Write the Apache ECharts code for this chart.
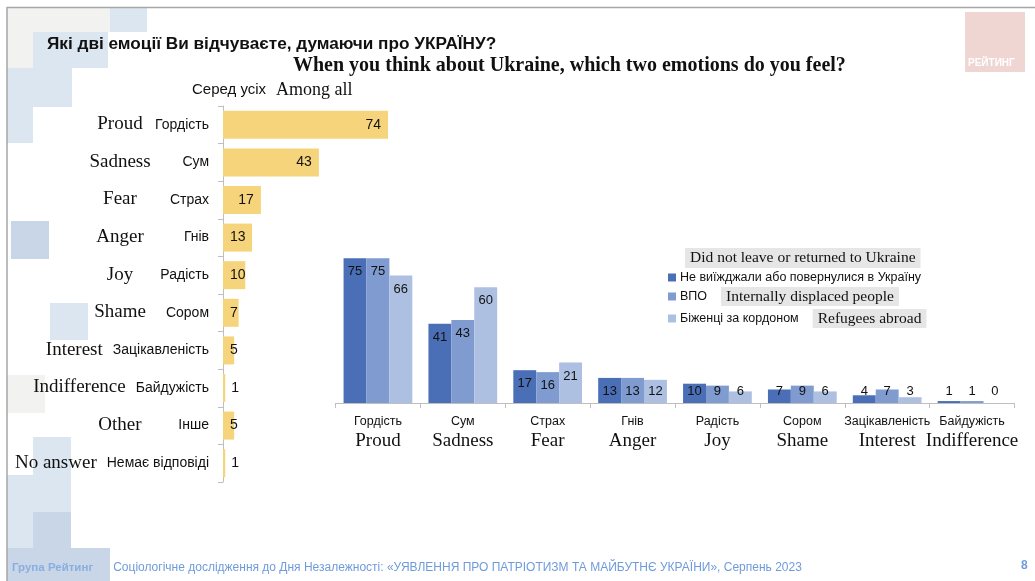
<!DOCTYPE html>
<html>
<head>
<meta charset="utf-8">
<script src="https://cdn.jsdelivr.net/npm/echarts@6/dist/echarts.min.js"></script>
<style>
html,body{margin:0;padding:0;background:#fff;}
#c{width:1035px;height:581px;}
</style>
</head>
<body>
<div id="c"></div>
<script>
// ---------- data ----------
var leftCatsEn = ['Proud','Sadness','Fear','Anger','Joy','Shame','Interest','Indifference','Other','No answer'];
var leftCatsUa = ['Гордість','Сум','Страх','Гнів','Радість','Сором','Зацікавленість','Байдужість','Інше','Немає відповіді'];
var leftValues = [74,43,17,13,10,7,5,1,5,1];

var rightCatsUa = ['Гордість','Сум','Страх','Гнів','Радість','Сором','Зацікавленість','Байдужість'];
var rightCatsEn = ['Proud','Sadness','Fear','Anger','Joy','Shame','Interest','Indifference'];
var seriesNamesUa = ['Не виїжджали або повернулися в Україну','ВПО','Біженці за кордоном'];
var seriesNamesEn = ['Did not leave or returned to Ukraine','Internally displaced people','Refugees abroad'];
var stayedValues = [75,41,17,13,10,7,4,1];
var idpValues = [75,43,16,13,9,9,7,1];
var refugeeValues = [66,60,21,12,6,6,3,0];

// ---------- styles ----------
var SANS = "'Liberation Sans', Arial, sans-serif";
var SERIF = "'Liberation Serif', 'DejaVu Serif', serif";
var barColors = ['#4A6FB7','#7F9BD0','#ADC0E2'];

// measure text for positioning of English labels
var mctx = document.createElement('canvas').getContext('2d');
function tw(text, font){ mctx.font = font; return mctx.measureText(text).width; }
var uaFont = '14px ' + SANS;
var enFont = '19px ' + SERIF;
var labelRight = 208, enCenter = 119;
var leftRich = {
  ua: {fontFamily: SANS, fontSize: 14, color: '#111'}
};
leftCatsEn.forEach(function(en, i){
  var uaW = tw(leftCatsUa[i], uaFont);
  var enW = tw(en, enFont);
  var gap = Math.max(10, (labelRight - uaW) - (enCenter + enW / 2));
  leftRich['e' + i] = {fontFamily: SERIF, fontSize: 19, color: '#111', padding: [0, gap, 1, 0]};
});

var chart = echarts.init(document.getElementById('c'));

function rightData(vals){
  return vals.map(function(v){
    return {value: v, label: {position: v >= 13 ? 'insideTop' : 'insideBottom', distance: v >= 13 ? 7 : 5}};
  });
}
function leftData(vals){
  return vals.map(function(v){
    var pos = v > 13 ? 'insideRight' : (v >= 3 ? 'insideLeft' : 'right');
    var dist = v > 13 ? 7 : (v >= 3 ? 7 : 6);
    return {value: v, label: {position: pos, distance: dist}};
  });
}
function rightSeries(i, vals){
  return {
    name: seriesNamesUa[i], type: 'bar', xAxisIndex: 1, yAxisIndex: 1,
    data: rightData(vals), barGap: '0%', barCategoryGap: '19%',
    itemStyle: {color: barColors[i]},
    label: {show: true, color: '#111', fontFamily: SANS, fontSize: 13},
    silent: true
  };
}

var deco = [
  ['#F2F2F0', 7, 8, 103, 24], ['#DCE6F0', 110, 8, 37, 24],
  ['#F2F2F0', 7, 32, 26, 36], ['#DCE6F0', 33, 32, 75, 36],
  ['#DCE6F0', 7, 68, 65, 39], ['#DCE6F0', 7, 107, 26, 36],
  ['#C8D6E8', 11, 221, 38, 38],
  ['#DCE6F0', 50, 303, 38, 37],
  ['#F2F2F0', 7, 375, 38, 38],
  ['#DCE6F0', 33, 437, 38, 38], ['#DCE6F0', 7, 475, 64, 37],
  ['#DCE6F0', 7, 512, 26, 36], ['#C8D6E8', 33, 512, 38, 36],
  ['#C8D6E8', 7, 548, 103, 33]
].map(function(d){
  return {type: 'rect', z: -10, shape: {x: d[1], y: d[2], width: d[3], height: d[4]}, style: {fill: d[0]}, silent: true};
});

var graphics = deco.concat([
  {type: 'line', z: -5, shape: {x1: 7, y1: 7.5, x2: 1035, y2: 7.5}, style: {stroke: '#A6A6A6', lineWidth: 1.5}},
  {type: 'line', z: -5, shape: {x1: 7, y1: 7, x2: 7, y2: 581}, style: {stroke: '#A6A6A6', lineWidth: 1.5}},
  {type: 'rect', z: -5, shape: {x: 965, y: 12, width: 60, height: 60}, style: {fill: '#EFD6D2'}},
  {type: 'text', z: -4, left: 968, top: 58, style: {text: 'РЕЙТИНГ', fill: '#fff', font: 'bold 10px ' + SANS}}
]);

var option = {
  animation: false,
  backgroundColor: '#fff',
  graphic: graphics,
  title: [
    {text: 'Які дві емоції Ви відчуваєте, думаючи про УКРАЇНУ?', left: 47, top: 36, padding: 0,
     textStyle: {fontFamily: SANS, fontSize: 17.2, fontWeight: 'bold', color: '#111'}},
    {text: 'When you think about Ukraine, which two emotions do you feel?', left: 293, top: 56, padding: 0,
     textStyle: {fontFamily: SERIF, fontSize: 20, fontWeight: 'bold', color: '#111'}},
    {text: '{a|Серед усіх}  {b|Among all}', left: 192, top: 81, padding: 0,
     textStyle: {fontWeight: 'normal', rich: {a: {fontFamily: SANS, fontSize: 15, fontWeight: 'normal', color: '#111'},
                                             b: {fontFamily: SERIF, fontSize: 18, fontWeight: 'normal', color: '#111'}}}},
    {text: seriesNamesEn[0], left: 685, top: 248, backgroundColor: '#E6E6E6', padding: [2, 5, 2, 5],
     textStyle: {fontFamily: SERIF, fontSize: 15.5, fontWeight: 'normal', color: '#111'}},
    {text: '{b|Група Рейтинг}{sp|}{n|Соціологічне дослідження до Дня Незалежності: «УЯВЛЕННЯ ПРО ПАТРІОТИЗМ ТА МАЙБУТНЄ УКРАЇНИ», Серпень 2023}',
     left: 12, top: 559, padding: 0,
     textStyle: {fontWeight: 'normal', rich: {b: {fontFamily: SANS, fontSize: 11.5, fontWeight: 'bold', color: '#8AAEE0'},
                        sp: {width: 20},
                        n: {fontFamily: SANS, fontSize: 12, fontWeight: 'normal', color: '#6F9BDB'}}}},
    {text: '8', left: 1021, top: 560, padding: 0, textStyle: {fontFamily: SANS, fontSize: 12, fontWeight: 'bold', color: '#6F9BDB'}}
  ],
  legend: {
    data: seriesNamesUa, orient: 'vertical', left: 668, top: 271, padding: 0,
    itemWidth: 8, itemHeight: 8, itemGap: 3, icon: 'rect', selectedMode: false,
    formatter: function(name){
      var i = seriesNamesUa.indexOf(name);
      return '{ua|' + name + '}' + (i > 0 ? '{sp|}{en|' + seriesNamesEn[i] + '}' : '');
    },
    textStyle: {
      padding: [0, 0, 0, -1],
      rich: {
        ua: {fontFamily: SANS, fontSize: 12.5, color: '#111', lineHeight: 18},
        sp: {width: 14},
        en: {fontFamily: SERIF, fontSize: 15.5, color: '#111', backgroundColor: '#E6E6E6', padding: [2, 5, 1, 5], lineHeight: 18}
      }
    }
  },
  grid: [
    {left: 223, top: 106, width: 223, height: 376},
    {left: 335.5, top: 210, width: 679, height: 193}
  ],
  xAxis: [
    {type: 'value', gridIndex: 0, min: 0, max: 100, show: false},
    {type: 'category', gridIndex: 1, data: rightCatsUa,
     axisLine: {lineStyle: {color: '#BFBFBF'}},
     axisTick: {show: true, length: 5, lineStyle: {color: '#BFBFBF'}},
     axisLabel: {
       margin: 10, interval: 0,
       formatter: function(v, i){ return '{u|' + v + '}\n{e|' + rightCatsEn[i] + '}'; },
       rich: {u: {fontFamily: SANS, fontSize: 12.5, color: '#111', lineHeight: 18},
              e: {fontFamily: SERIF, fontSize: 19, color: '#111', lineHeight: 21}}
     }}
  ],
  yAxis: [
    {type: 'category', gridIndex: 0, inverse: true, data: leftCatsUa,
     axisLine: {lineStyle: {color: '#BFBFBF'}},
     axisTick: {show: true, length: 5, lineStyle: {color: '#BFBFBF'}},
     axisLabel: {
       margin: 14, interval: 0, align: 'right',
       formatter: function(v, i){ return '{e' + i + '|' + leftCatsEn[i] + '}{ua|' + v + '}'; },
       rich: leftRich
     }},
    {type: 'value', gridIndex: 1, min: 0, max: 100, show: false}
  ],
  series: [
    {type: 'bar', xAxisIndex: 0, yAxisIndex: 0, data: leftData(leftValues), barWidth: 28,
     itemStyle: {color: '#F6D47C'}, silent: true,
     label: {show: true, color: '#111', fontFamily: SANS, fontSize: 14}},
    rightSeries(0, stayedValues),
    rightSeries(1, idpValues),
    rightSeries(2, refugeeValues)
  ]
};
chart.setOption(option);
</script>
</body>
</html>
